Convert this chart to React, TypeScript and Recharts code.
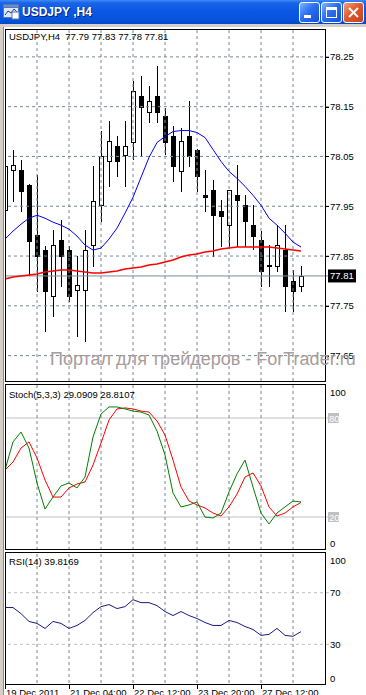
import React from 'react'
import { ComposedChart, Bar, Line, XAxis, YAxis, ReferenceLine } from 'recharts'

// USDJPY H4 candles
const opens = [77.942, 78.022, 78.022, 77.992, 77.892, 77.862, 77.77, 77.882, 77.862, 77.782, 77.782, 77.872, 77.952, 78.04, 78.072, 78.052, 78.08, 78.172, 78.14, 78.172, 78.132, 78.092, 78.02, 78.092, 78.062, 77.972, 77.982, 77.94, 77.912, 77.972, 77.952, 77.912, 77.882, 77.832, 77.83, 77.862, 77.8, 77.79]
const highs = [78.05, 78.062, 78.042, 77.994, 78.012, 77.87, 77.902, 77.922, 77.87, 77.85, 77.902, 78.03, 78.102, 78.122, 78.092, 78.122, 78.202, 78.212, 78.192, 78.232, 78.148, 78.112, 78.108, 78.162, 78.064, 78.022, 78.002, 77.962, 77.982, 78.032, 77.972, 77.952, 77.9, 77.872, 77.912, 77.912, 77.822, 77.83]
const lows = [77.93, 77.96, 77.94, 77.812, 77.78, 77.7, 77.73, 77.79, 77.76, 77.69, 77.68, 77.83, 77.92, 77.99, 78.01, 77.99, 78.044, 78.05, 78.12, 78.12, 78.054, 78.0, 77.98, 78.03, 77.98, 77.94, 77.85, 77.87, 77.87, 77.87, 77.87, 77.864, 77.79, 77.79, 77.82, 77.74, 77.74, 77.78]
const closes = [78.03, 78.032, 77.98, 77.88, 77.85, 77.78, 77.872, 77.85, 77.77, 77.792, 77.862, 77.96, 78.05, 78.082, 78.04, 78.072, 78.182, 78.15, 78.162, 78.14, 78.08, 78.03, 78.082, 78.05, 78.01, 77.968, 77.932, 77.93, 77.982, 77.962, 77.92, 77.89, 77.82, 77.83, 77.872, 77.79, 77.78, 77.81]

// moving averages (blue fast, red slow)
const maFast = [77.884, 77.9, 77.914, 77.926, 77.932, 77.926, 77.918, 77.912, 77.904, 77.89, 77.872, 77.862, 77.866, 77.884, 77.906, 77.936, 77.968, 78.008, 78.048, 78.078, 78.09, 78.1, 78.102, 78.102, 78.098, 78.088, 78.064, 78.04, 78.02, 78.006, 77.99, 77.972, 77.952, 77.926, 77.912, 77.896, 77.878, 77.868]
const maSlow = [77.804, 77.808, 77.81, 77.812, 77.814, 77.818, 77.82, 77.822, 77.822, 77.82, 77.818, 77.816, 77.816, 77.818, 77.82, 77.824, 77.826, 77.828, 77.832, 77.834, 77.838, 77.842, 77.848, 77.852, 77.854, 77.858, 77.86, 77.864, 77.866, 77.868, 77.868, 77.868, 77.868, 77.868, 77.866, 77.864, 77.862, 77.86]

// Stoch(5,3,3) main / signal
const stochMain = [48.5, 65.5, 71.5, 61.8, 40.6, 24.8, 32.1, 38.8, 40.6, 37.6, 44.2, 68.5, 82.4, 86.7, 86.7, 85.5, 84.2, 83.6, 81.8, 72.1, 57.6, 34.5, 26.1, 27.3, 29.1, 20.0, 19.4, 22.4, 35.2, 46.1, 54.5, 38.2, 22.4, 15.8, 22.4, 26.1, 29.7, 29.09]
const stochSignal = [48.5, 53.3, 61.8, 65.5, 55.8, 42.4, 32.1, 32.1, 37.6, 40.0, 41.2, 51.5, 64.8, 78.8, 85.5, 86.1, 85.5, 84.2, 83.6, 78.2, 69.7, 54.5, 38.2, 29.7, 27.3, 25.5, 22.4, 20.6, 26.1, 33.9, 44.2, 46.7, 38.8, 26.1, 20.6, 22.4, 26.1, 28.81]

// RSI(14)
const rsi = [58.5, 58.5, 53.8, 47.7, 46.2, 42.3, 47.7, 46.2, 42.3, 44.6, 48.5, 54.6, 59.2, 60.8, 57.7, 59.2, 64.6, 62.3, 62.3, 60.0, 55.4, 52.3, 55.4, 52.3, 50.0, 46.9, 44.6, 44.6, 48.5, 46.9, 43.8, 41.5, 36.9, 37.7, 42.3, 36.9, 36.2, 39.82]

const emptySlots = 3
const gridCols = [4, 8, 12, 16, 20, 24, 28, 32, 36]
const priceTicks = [77.65, 77.75, 77.85, 77.95, 78.05, 78.15, 78.25]
const stochTicks = [0, 20, 80, 100]
const stochLevels = [20, 80]
const rsiTicks = [0, 30, 70, 100]
const rsiLevels = [30, 70]
const timeTicks = [0, 8, 16, 24, 32]
const timeLabels = ['19 Dec 2011', '21 Dec 04:00', '22 Dec 12:00', '23 Dec 20:00', '27 Dec 12:00']

const data = [...opens, ...Array(emptySlots).fill(null)].map((_, i) => ({
  i,
  o: opens[i],
  h: highs[i],
  l: lows[i],
  c: closes[i],
  fast: maFast[i],
  slow: maSlow[i],
  k: stochMain[i],
  d: stochSignal[i],
  rsi: rsi[i],
}))

const FONT = '"Liberation Sans", Arial, sans-serif'
const GRID = '#778899'
const W = 365
const AXIS_W = 37
const M = { top: 0, right: 0, bottom: 0, left: 0 }

const Candle = (props: any) => {
  const { x, y, width, height, payload } = props
  if (!payload || payload.o == null) return null
  const { o, h, l, c } = payload
  const top = Math.min(y, y + height)
  const span = Math.abs(height)
  const k = h === l ? 0 : span / (h - l)
  const py = (p: number) => top + (h - p) * k
  const cx = Math.floor(x + width / 2) + 0.5
  const bTop = Math.round(py(Math.max(o, c))) + 0.5
  const bBot = Math.round(py(Math.min(o, c))) + 0.5
  const bh = bBot - bTop
  return (
    <g>
      <line x1={cx} x2={cx} y1={Math.round(top)} y2={Math.round(top + span) + 1} stroke="#000" />
      {bh < 1 ? (
        <line x1={cx - 2.5} x2={cx + 2.5} y1={bTop} y2={bTop} stroke="#000" />
      ) : (
        <rect x={cx - 2} y={bTop} width={4} height={bh} fill={c >= o ? '#fff' : '#000'} stroke="#000" />
      )}
    </g>
  )
}

const PriceTick = (props: any) => {
  const { x, y, payload } = props
  return (
    <g>
      <line x1={x - 4} x2={x - 1} y1={Math.round(y) + 0.5} y2={Math.round(y) + 0.5} stroke="#000" />
      <text x={x} y={y + 3.5} fontSize={9.5} fontFamily={FONT} fill="#000">
        {payload.value.toFixed(2)}
      </text>
    </g>
  )
}

const PriceTag = (props: any) => {
  const vb = props.viewBox || {}
  const x = vb.x + vb.width - 1
  const y = vb.y
  return (
    <g>
      <rect x={x} y={y - 6.5} width={28} height={13} fill="#000" />
      <text x={x + 2} y={y + 3.5} fontSize={9.5} fontFamily={FONT} fill="#fff">
        {closes[closes.length - 1].toFixed(2)}
      </text>
    </g>
  )
}

const StochTick = (props: any) => {
  const { x, y, payload } = props
  const v = payload.value
  if (stochLevels.includes(v)) {
    return (
      <g>
        <rect x={x - 2} y={y - 5} width={11} height={10} fill="#c0c0c0" />
        <text x={x - 1} y={y + 3.5} fontSize={9.5} fontFamily={FONT} fill="#fff">{v}</text>
      </g>
    )
  }
  const dy = v === 100 ? 7 : -7
  return (
    <text x={x} y={y + dy + 3.5} fontSize={9.5} fontFamily={FONT} fill="#000">{v}</text>
  )
}

const RsiTick = (props: any) => {
  const { x, y, payload } = props
  const v = payload.value
  const dy = v === 100 ? 6 : v === 0 ? -5 : 0
  return (
    <text x={x} y={y + dy + 3.5} fontSize={9.5} fontFamily={FONT} fill="#000">{v}</text>
  )
}

const TimeTick = (props: any) => {
  const { x, y, payload } = props
  const idx = timeTicks.indexOf(payload.value)
  if (idx < 0) return <g />
  const lx = Math.floor(x) + 0.5
  return (
    <g>
      <line x1={lx} x2={lx} y1={y + 1} y2={y + 6} stroke="#000" />
      <text x={x + 1} y={y + 13} fontSize={9.5} fontFamily={FONT} fill="#000">{timeLabels[idx]}</text>
    </g>
  )
}

const vGrid = () =>
  gridCols.map((c) => <ReferenceLine key={'v' + c} x={c} stroke={GRID} strokeDasharray="3 3" />)

function MainChart() {
  return (
    <ComposedChart width={W} height={352} data={data} margin={M}>
      <XAxis dataKey="i" type="category" scale="band" hide />
      <YAxis
        orientation="right"
        width={AXIS_W}
        domain={[77.599, 78.306]}
        ticks={priceTicks}
        interval={0}
        axisLine={false}
        tickLine={false}
        tickSize={0}
        tickMargin={1}
        tick={<PriceTick />}
        allowDataOverflow
      />
      {priceTicks.map((p) => (
        <ReferenceLine key={'h' + p} y={p} stroke={GRID} strokeDasharray="3 3" />
      ))}
      {vGrid()}
      <ReferenceLine y={closes[closes.length - 1]} stroke="#7f8c99" label={<PriceTag />} />
      <Bar dataKey={(d: any) => (d.h == null ? null : [d.l, d.h])} barSize={5} shape={Candle} isAnimationActive={false} />
      <Line type="linear" dataKey="slow" stroke="#ff0000" strokeWidth={1.5} dot={false} isAnimationActive={false} />
      <Line type="linear" dataKey="fast" stroke="#0000ff" strokeWidth={1} dot={false} isAnimationActive={false} />
    </ComposedChart>
  )
}

function StochChart() {
  return (
    <ComposedChart width={W} height={165} data={data} margin={M}>
      <XAxis dataKey="i" type="category" scale="band" hide />
      <YAxis
        orientation="right"
        width={AXIS_W}
        domain={[0, 100]}
        ticks={stochTicks}
        interval={0}
        axisLine={false}
        tickLine={false}
        tickSize={0}
        tickMargin={1}
        tick={<StochTick />}
      />
      {stochLevels.map((v) => (
        <ReferenceLine key={'s' + v} y={v} stroke="#c0c0c0" />
      ))}
      {vGrid()}
      <Line type="linear" dataKey="d" stroke="#ff0000" strokeWidth={1} dot={false} isAnimationActive={false} />
      <Line type="linear" dataKey="k" stroke="#008000" strokeWidth={1} dot={false} isAnimationActive={false} />
    </ComposedChart>
  )
}

function RsiChart() {
  return (
    <ComposedChart width={W} height={141} data={data} margin={M}>
      <XAxis
        dataKey="i"
        type="category"
        scale="band"
        height={12}
        interval={0}
        axisLine={false}
        tickLine={false}
        tickSize={0}
        tickMargin={0}
        tick={<TimeTick />}
      />
      <YAxis
        orientation="right"
        width={AXIS_W}
        domain={[0, 100]}
        ticks={rsiTicks}
        interval={0}
        axisLine={false}
        tickLine={false}
        tickSize={0}
        tickMargin={1}
        tick={<RsiTick />}
      />
      {rsiLevels.map((v) => (
        <ReferenceLine key={'r' + v} y={v} stroke="#c0c0c0" strokeDasharray="3 3" />
      ))}
      {vGrid()}
      <Line type="linear" dataKey="rsi" stroke="#1a1a80" strokeWidth={1} dot={false} isAnimationActive={false} />
    </ComposedChart>
  )
}

const box = (top: number, height: number): React.CSSProperties => ({
  position: 'absolute',
  left: 5,
  top,
  width: 321,
  height,
  border: '1px solid #000',
  boxSizing: 'border-box',
  pointerEvents: 'none',
})

const label = (top: number): React.CSSProperties => ({
  position: 'absolute',
  left: 9,
  top,
  fontSize: 9.5,
  lineHeight: '12px',
  fontFamily: FONT,
  color: '#000',
  whiteSpace: 'pre',
})

const btn = (left: number, close?: boolean): React.CSSProperties => ({
  position: 'absolute',
  left,
  top: 2,
  width: 21,
  height: 21,
  boxSizing: 'border-box',
  border: '1px solid #fff',
  borderRadius: 3,
  background: close
    ? 'linear-gradient(135deg, #f0a080 0%, #e0592f 45%, #c8401a 100%)'
    : 'linear-gradient(135deg, #7fb2ff 0%, #2a6ff0 45%, #1550d8 100%)',
})

function TitleBar() {
  return (
    <div
      style={{
        position: 'absolute',
        left: 0,
        top: 0,
        width: 366,
        height: 24,
        background: 'linear-gradient(to bottom, #3d8cf5 0%, #1b64e8 12%, #0a58e4 45%, #0654de 80%, #0548c8 100%)',
      }}
    >
      <svg style={{ position: 'absolute', left: 3, top: 4 }} width={17} height={16}>
        <rect x={0.5} y={0.5} width={15} height={13} fill="#dfe8f6" stroke="#5a78b0" />
        <rect x={0.5} y={0.5} width={15} height={3} fill="#6a8ccc" stroke="#5a78b0" />
        <polyline points="2,11 5,7 8,9 11,5 14,8" fill="none" stroke="#1a3a90" />
        <rect x={9} y={8} width={7} height={7} fill="#fff" stroke="#5a78b0" />
      </svg>
      <div
        style={{
          position: 'absolute',
          left: 22,
          top: 5,
          fontFamily: FONT,
          fontWeight: 'bold',
          fontSize: 12,
          lineHeight: '14px',
          color: '#fff',
          textShadow: '1px 1px #0a1e78',
        }}
      >
        USDJPY ,H4
      </div>
      <div style={btn(299)}>
        <div style={{ position: 'absolute', left: 4, top: 12, width: 7, height: 3, background: '#fff' }} />
      </div>
      <div style={btn(321)}>
        <div
          style={{
            position: 'absolute',
            left: 4,
            top: 4,
            width: 11,
            height: 11,
            boxSizing: 'border-box',
            borderStyle: 'solid',
            borderColor: '#fff',
            borderWidth: '3px 1px 1px 1px',
          }}
        />
      </div>
      <div style={btn(343, true)}>
        <svg style={{ position: 'absolute', left: 0, top: 0 }} width={19} height={19}>
          <line x1={5} y1={5} x2={14} y2={14} stroke="#fff" strokeWidth={2} />
          <line x1={14} y1={5} x2={5} y2={14} stroke="#fff" strokeWidth={2} />
        </svg>
      </div>
    </div>
  )
}

export default function App() {
  return (
    <div
      style={{
        position: 'fixed',
        left: 0,
        top: 0,
        width: 366,
        height: 695,
        overflow: 'hidden',
        background: '#d4d0c8',
        fontFamily: FONT,
      }}
    >
      <TitleBar />
      <div style={{ position: 'absolute', left: 4, top: 27, right: 0, bottom: 0, background: '#fff' }} />
      <div style={{ position: 'absolute', left: 1, top: 29 }}>
        <MainChart />
      </div>
      <div style={{ position: 'absolute', left: 1, top: 385 }}>
        <StochChart />
      </div>
      <div style={{ position: 'absolute', left: 1, top: 554 }}>
        <RsiChart />
      </div>
      <div
        style={{
          position: 'absolute',
          left: 0,
          top: 27,
          width: 5,
          bottom: 0,
          background: 'linear-gradient(to right, #d4d0c8 0px, #d4d0c8 3px, #8c8c8c 3px, #8c8c8c 4px, #fff 4px, #fff 5px)',
        }}
      />
      <div style={box(29, 353)} />
      <div style={box(384, 166)} />
      <div style={box(552, 133)} />
      <div style={label(31)}>USDJPY,H4  77.79 77.83 77.78 77.81</div>
      <div style={label(389)}>Stoch(5,3,3) 29.0909 28.8107</div>
      <div style={label(556)}>RSI(14) 39.8169</div>
      <div
        style={{
          position: 'absolute',
          left: 50,
          top: 350,
          fontFamily: FONT,
          fontSize: 18,
          lineHeight: '18px',
          color: '#a89c9c',
          whiteSpace: 'pre',
        }}
      >
        Портал для трейдеров - ForTrader.ru
      </div>
    </div>
  )
}
